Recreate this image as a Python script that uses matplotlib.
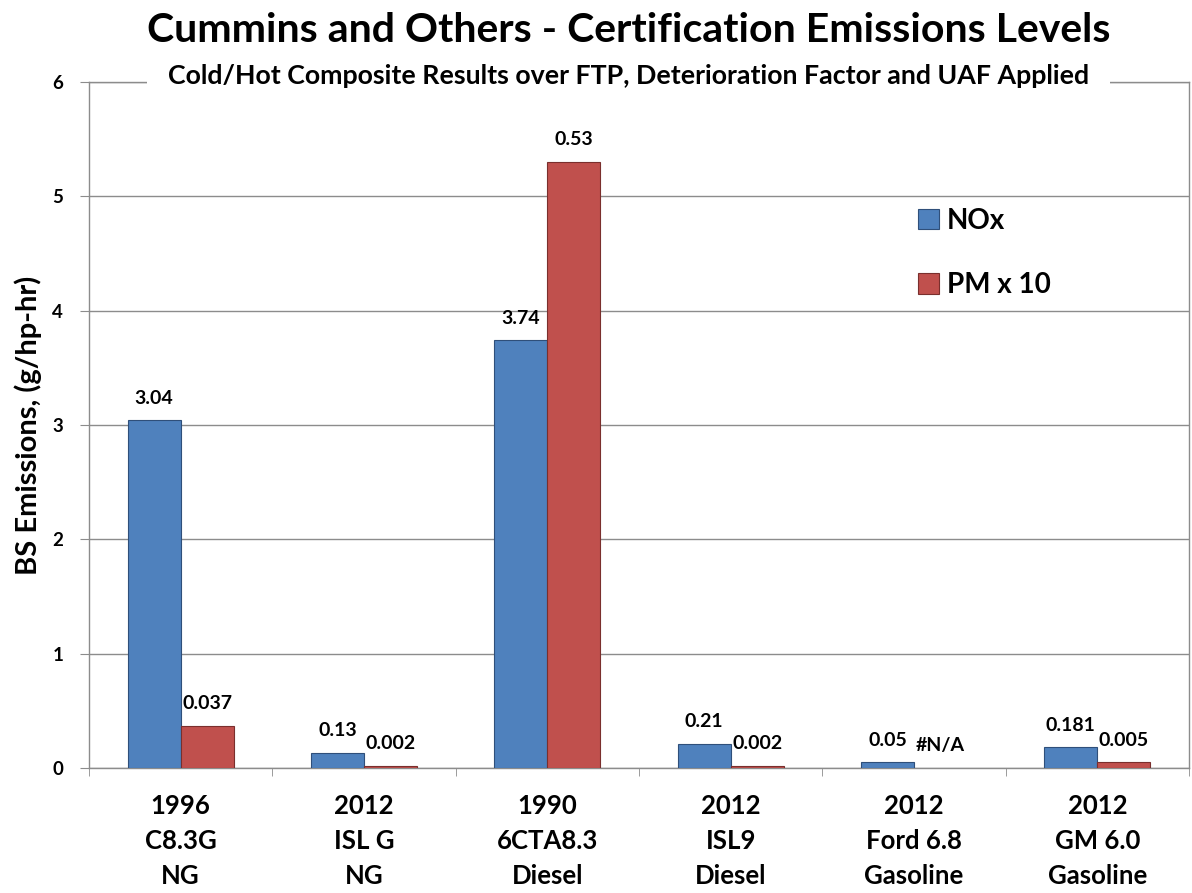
import matplotlib
matplotlib.use("Agg")
import matplotlib.pyplot as plt
import numpy as np

categories = ["1996\nC8.3G\nNG", "2012\nISL G\nNG", "1990\n6CTA8.3\nDiesel",
              "2012\nISL9\nDiesel", "2012\nFord 6.8\nGasoline", "2012\nGM 6.0\nGasoline"]
nox = [3.04, 0.13, 3.74, 0.21, 0.05, 0.181]
pm_x10 = [0.37, 0.02, 5.3, 0.02, np.nan, 0.05]
nox_labels = ["3.04", "0.13", "3.74", "0.21", "0.05", "0.181"]
pm_labels = ["0.037", "0.002", "0.53", "0.002", "#N/A", "0.005"]
yticks = [0, 1, 2, 3, 4, 5, 6]

FONT = "Lato"
plt.rcParams['font.family'] = [FONT, 'DejaVu Sans']

W, H = 1192, 893
fig = plt.figure(figsize=(W/100, H/100), dpi=100)
ax = fig.add_axes([89/W, 1-768/H, 1100/W, 686/H])

x = np.arange(len(categories))
w = 0.289
blue = "#4F81BD"
red = "#C0504D"
ax.bar(x - w/2, nox, w, color=blue, edgecolor="#2f4f7a", linewidth=0.8, zorder=3, label="NOx")
pm_plot = [0 if np.isnan(v) else v for v in pm_x10]
bars_pm = ax.bar(x + w/2, pm_plot, w, color=red, edgecolor="#7a2f2d", linewidth=0.8, zorder=3, label="PM x 10")
for i, v in enumerate(pm_x10):
    if np.isnan(v):
        bars_pm[i].set_visible(False)

for i in range(len(categories)):
    ax.annotate(nox_labels[i], (x[i] - w/2, nox[i]), xytext=(0, 12), textcoords="offset points",
                ha="center", va="baseline", fontsize=14, fontweight="bold", zorder=4)
    ax.annotate(pm_labels[i], (x[i] + w/2, pm_plot[i]), xytext=(0, 12), textcoords="offset points",
                ha="center", va="baseline", fontsize=14, fontweight="bold", zorder=4)

ax.set_xlim(-0.5, len(categories) - 0.5)
ax.set_ylim(0, 6)
ax.set_yticks(yticks)
ax.set_yticklabels([str(t) for t in yticks], fontsize=13.5, fontweight="bold")
ax.set_xticks(x)
ax.set_xticklabels(categories, fontsize=18.5, fontweight="bold", linespacing=1.55)
ax.tick_params(axis="x", length=0, pad=19)
ax.set_xticks(np.arange(len(categories) + 1) - 0.5, minor=True)
ax.tick_params(axis="x", which="minor", length=6, color="#8c8c8c", direction="out")
ax.tick_params(axis="y", length=6.5, color="#8c8c8c", pad=12)
ax.yaxis.grid(True, color="#8c8c8c", linewidth=1, zorder=0)
for s in ["left", "right", "top", "bottom"]:
    ax.spines[s].set_color("#8c8c8c")
    ax.spines[s].set_linewidth(1)

ax.set_ylabel("BS Emissions, (g/hp-hr)", fontsize=21, fontweight="bold")
ax.yaxis.label.set_verticalalignment("center")
ax.yaxis.set_label_coords(-(89-28)/1100, 0.5)

leg = ax.legend(loc="upper left", bbox_to_anchor=((918-89)/1100, (768-208)/686), frameon=False,
                fontsize=20, handlelength=0.75, handleheight=0.75, labelspacing=1.37,
                handletextpad=0.3, borderpad=0, borderaxespad=0)
for t in leg.get_texts():
    t.set_fontweight("bold")

fig.text(628.5/W, 1-42/H, "Cummins and Others - Certification Emissions Levels",
         ha="center", va="baseline", fontsize=29.5, fontweight="bold")
fig.text(628.5/W, 1-84/H, "Cold/Hot Composite Results over FTP, Deterioration Factor and UAF Applied",
         ha="center", va="baseline", fontsize=19.3, fontweight="bold",
         bbox=dict(facecolor="white", edgecolor="none", pad=15), zorder=10)

fig.savefig("out.png", dpi=100, facecolor="white")
